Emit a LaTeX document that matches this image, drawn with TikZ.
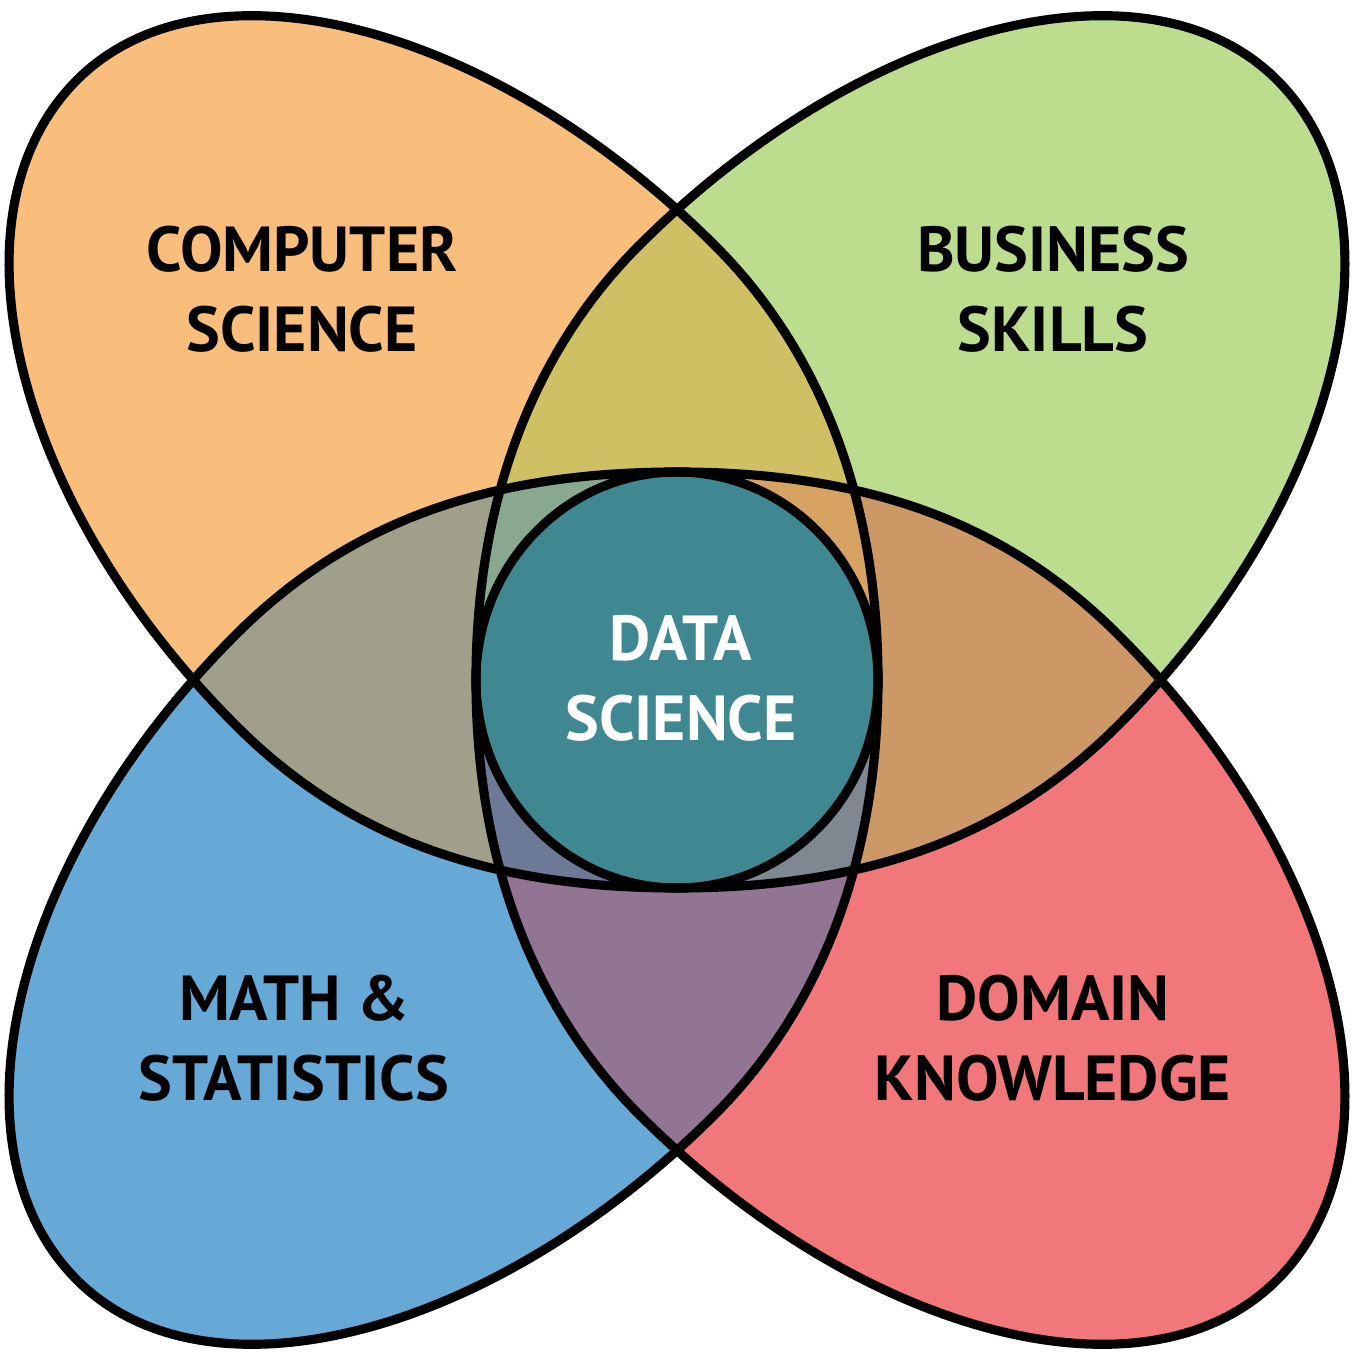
\documentclass[tikz,border=0pt]{standalone}
\usepackage{fontspec}
\setmainfont{PT Sans}

\definecolor{cscol}{HTML}{F9BE7C}
\definecolor{buscol}{HTML}{BCDD8E}
\definecolor{mathcol}{HTML}{66A9D6}
\definecolor{domcol}{HTML}{F2777B}
\definecolor{csbus}{HTML}{CFC064}
\definecolor{csmath}{HTML}{A0A08A}
\definecolor{busdom}{HTML}{CC9966}
\definecolor{mathdom}{HTML}{917592}
\definecolor{csbusmath}{HTML}{88A88F}
\definecolor{csbusdom}{HTML}{D6A363}
\definecolor{csmathdom}{HTML}{6C7A97}
\definecolor{busmathdom}{HTML}{7F8790}
\definecolor{datacol}{HTML}{408891}

% one petal (the top left one), centre of the picture at (0,0)
\def\petal{(201,0) arc[start angle=0, end angle=-90, x radius=201, y radius=208]
	.. controls (-200,-208) and (-335.1,-151.4) .. (-441.2,-45.3)
	.. controls (-663.3,176.8) and (-734.3,465.6) .. (-600,600)
	.. controls (-469.5,730.4) and (-183.8,656.2) .. (38.2,434.2)
	.. controls (137.2,335.2) and (201,190) .. (201,0) -- cycle}

\tikzset{
	cs petal/.style={},
	bus petal/.style={xscale=-1},
	math petal/.style={yscale=-1},
	dom petal/.style={xscale=-1, yscale=-1},
	rim/.style={draw=black, line width=2.6pt, line join=round},
	areatext/.style={font=\bfseries\fontsize{18.1pt}{22.8pt}\selectfont, align=center, inner sep=0pt}
}

\begin{document}
\begin{tikzpicture}[x=0.01cm, y=0.01cm]
			%%%%% START %%%%%
			
			\fill[white] (-677, -687) rectangle (689, 680);
			\useasboundingbox (-677, -687) rectangle (689, 680);
			
			\fill[cs petal, cscol] \petal;
			\fill[bus petal, buscol] \petal;
			\fill[math petal, mathcol] \petal;
			\fill[dom petal, domcol] \petal;
			
			\begin{scope}
				\clip[cs petal] \petal;
				\fill[bus petal, csbus] \petal;
			\end{scope}
			\begin{scope}
				\clip[cs petal] \petal;
				\fill[math petal, csmath] \petal;
			\end{scope}
			\begin{scope}
				\clip[dom petal] \petal;
				\fill[bus petal, busdom] \petal;
			\end{scope}
			\begin{scope}
				\clip[dom petal] \petal;
				\fill[math petal, mathdom] \petal;
			\end{scope}
			
			\begin{scope}
				\clip[cs petal] \petal;
				\clip[bus petal] \petal;
				\fill[math petal, csbusmath] \petal;
			\end{scope}
			\begin{scope}
				\clip[cs petal] \petal;
				\clip[bus petal] \petal;
				\fill[dom petal, csbusdom] \petal;
			\end{scope}
			\begin{scope}
				\clip[cs petal] \petal;
				\clip[math petal] \petal;
				\fill[dom petal, csmathdom] \petal;
			\end{scope}
			\begin{scope}
				\clip[bus petal] \petal;
				\clip[math petal] \petal;
				\fill[dom petal, busmathdom] \petal;
			\end{scope}
			
			\begin{scope}
				\clip[cs petal] \petal;
				\clip[bus petal] \petal;
				\clip[math petal] \petal;
				\fill[dom petal, datacol] \petal;
			\end{scope}
			
			\draw[cs petal, rim] \petal;
			\draw[bus petal, rim] \petal;
			\draw[math petal, rim] \petal;
			\draw[dom petal, rim] \petal;
			
			\node[areatext] (cs) at (-375, 391) {COMPUTER\\SCIENCE};
			\node[areatext] (bus) at (376, 391) {BUSINESS\\SKILLS};
			\node[areatext] (maths) at (-383, -358) {MATH \&\\STATISTICS};
			\node[areatext] (dom) at (376, -358) {DOMAIN\\KNOWLEDGE};
			\node[areatext, text=white] (ds) at (4, 2) {DATA\\SCIENCE};
			
			%%%%% END %%%%%
\end{tikzpicture}
\end{document}
